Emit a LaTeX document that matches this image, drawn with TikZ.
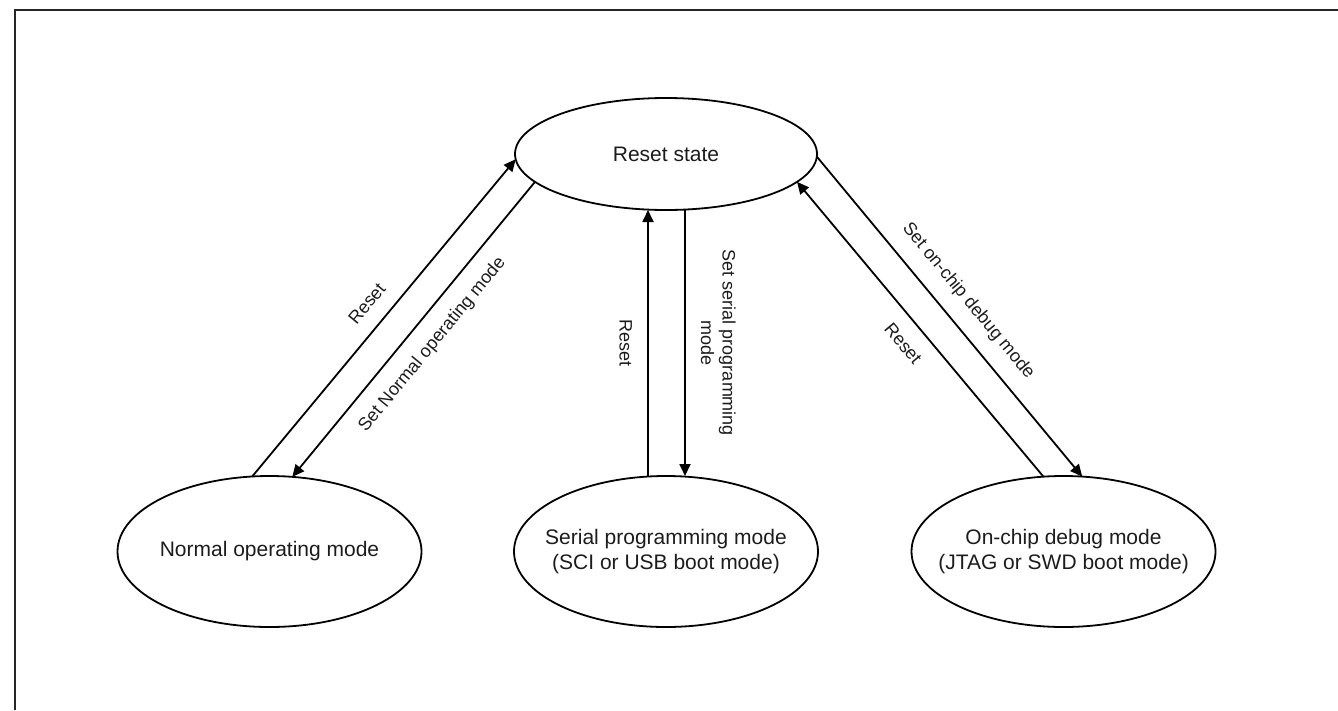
\documentclass[tikz,border=0pt]{standalone}
\usepackage{fontspec}
\setmainfont{Liberation Sans}
\usetikzlibrary{shapes.geometric,arrows.meta}
\definecolor{LineDark}{HTML}{000000}
\definecolor{TextDark}{HTML}{1C1C1C}
\definecolor{FrameDark}{HTML}{262626}

\begin{document}
\begin{tikzpicture}[
	x=1pt, y=-1pt, % One unit is one pixel of the layout, y runs downwards
	% Style for the state ellipses
	state node/.style={
		ellipse,
		draw=LineDark,        % Border color
		line width=1.8pt,
		minimum width=304pt,
		minimum height=151pt,
		inner sep=0pt,
		outer sep=0pt
	},
	% Style for the text written in a state
	state text/.style={
		text=TextDark,
		font=\fontsize{21}{25}\selectfont,
		align=center
	},
	% Style for the transitions
	edge/.style={
		draw=LineDark,
		line width=1.8pt,
		-{Triangle[length=12pt,width=11pt]}
	},
	% Same, with the tip at the start
	back edge/.style={
		edge,
		{Triangle[length=12pt,width=11pt]}-
	},
	% Style for the transition labels
	edge label/.style={
		text=TextDark,
		font=\fontsize{18}{21.5}\selectfont,
		align=center,
		inner xsep=2pt,
		inner ysep=15pt       % Gap between line and text
	},
	% Style for the frame lines
	frame line/.style={
		draw=FrameDark,
		line width=2pt
	}
	]
	
	\useasboundingbox (0,0) rectangle (1338,710);
	
	% Frame (top and left edge only)
	\draw[frame line] (14.7,710) -- (14.7,10.3) -- (1338,10.3);
	
	% 1. Define Node Positions
	% Top
	\node[state node, minimum width=302pt, minimum height=112pt,
		label={[state text]center:Reset state}] (reset) at (666, 154) {};
	
	% Bottom row (Left to Right)
	\node[state node, label={[state text]center:Normal operating mode}] (normal) at (269.5, 551.5) {};
	\node[state node, label={[state text]center:{Serial programming mode\\(SCI or USB boot mode)}}] (serial) at (666, 551.5) {};
	\node[state node, label={[state text]center:{On-chip debug mode\\(JTAG or SWD boot mode)}}] (debug) at (1063.5, 551.5) {};
	
	% 2. Draw Edges connecting the nodes
	% Normal operating mode
	\draw[edge] (normal.103) -- node[edge label, sloped, anchor=south] {Reset} (reset.182);
	\draw[back edge] (normal.73) -- node[edge label, sloped, anchor=north] {Set Normal operating mode} (reset.192);
	
	% Serial programming mode
	\draw[back edge] ([xshift=-18pt]reset.south) -- node[edge label, rotate=-90, anchor=north] {Reset} ([xshift=-18pt]serial.north);
	\draw[edge] ([xshift=19pt]reset.south) -- node[edge label, rotate=-90, anchor=south] {Set serial programming\\mode} ([xshift=19pt]serial.north);
	
	% On-chip debug mode
	\draw[edge] (reset.359) -- node[edge label, sloped, anchor=south] {Set on-chip debug mode} (debug.76);
	\draw[back edge] (reset.348) -- node[edge label, sloped, anchor=north] {Reset} (debug.105);
	
\end{tikzpicture}
\end{document}
